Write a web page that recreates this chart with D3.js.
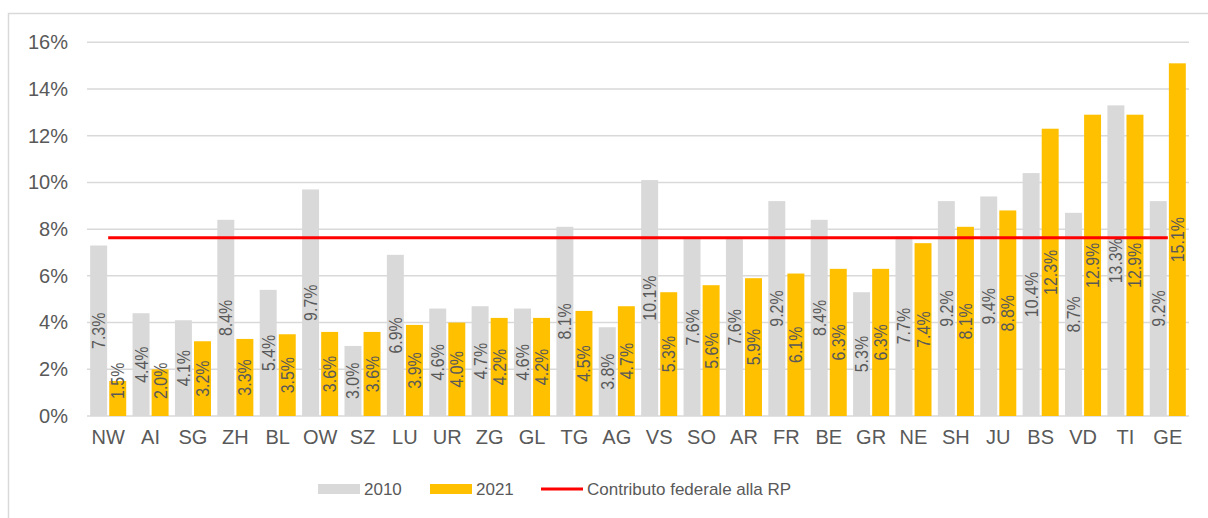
<!DOCTYPE html>
<html>
<head>
<meta charset="utf-8">
<script src="https://cdn.jsdelivr.net/npm/d3@7"></script>
<style>
  body { margin: 0; background: #fff; }
  svg { display: block; font-family: Arial, "Liberation Sans", sans-serif; }
</style>
</head>
<body>
<svg width="1208" height="518"></svg>
<script>
// Cantons and shares (in %)
const cantons = ["NW","AI","SG","ZH","BL","OW","SZ","LU","UR","ZG","GL","TG","AG","VS","SO","AR","FR","BE","GR","NE","SH","JU","BS","VD","TI","GE"];
const values2010 = [7.3,4.4,4.1,8.4,5.4,9.7,3.0,6.9,4.6,4.7,4.6,8.1,3.8,10.1,7.6,7.6,9.2,8.4,5.3,7.7,9.2,9.4,10.4,8.7,13.3,9.2];
const values2021 = [1.5,2.0,3.2,3.3,3.5,3.6,3.6,3.9,4.0,4.2,4.2,4.5,4.7,5.3,5.6,5.9,6.1,6.3,6.3,7.4,8.1,8.8,12.3,12.9,12.9,15.1];
const federalShare = 7.63;
const yTicks = [0,2,4,6,8,10,12,14,16];
const seriesNames = ["2010","2021"];

const colors = { "2010": "#d9d9d9", "2021": "#ffc000" };
const textColor = "#595959";
const labelSqueeze = 0.84;

const svg = d3.select("svg");

// outer frame
svg.append("rect")
    .attr("x", 8.5).attr("y", 13.5)
    .attr("width", 1210).attr("height", 520)
    .attr("fill", "none").attr("stroke", "#d9d9d9").attr("stroke-width", 1.5);

const x0 = d3.scaleBand().domain(cantons).range([87, 1189]).paddingInner(0.15).paddingOuter(0.075);
const x1 = d3.scaleBand().domain(seriesNames).range([0, x0.bandwidth()]).paddingInner(0.111);
const y = d3.scaleLinear().domain([0, 16]).range([416, 42.3]);

// gridlines
svg.append("g").selectAll("line")
    .data(yTicks)
    .join("line")
    .attr("x1", 87).attr("x2", 1189)
    .attr("y1", d => y(d)).attr("y2", d => y(d))
    .attr("stroke", "#d9d9d9").attr("stroke-width", 1.5);

// y axis labels
const yAxis = d3.axisLeft(y).tickValues(yTicks).tickFormat(d => d + "%").tickSize(0).tickPadding(0);
svg.append("g")
    .attr("transform", "translate(68,0)")
    .call(yAxis)
    .call(g => g.select(".domain").remove())
    .call(g => g.selectAll("text")
        .attr("font-size", 20).attr("fill", textColor)
        .attr("font-family", "Arial, 'Liberation Sans', sans-serif"));

// x axis labels
const xAxis = d3.axisBottom(x0).tickSize(0).tickPadding(0);
svg.append("g")
    .attr("transform", "translate(0,430)")
    .call(xAxis)
    .call(g => g.select(".domain").remove())
    .call(g => g.selectAll("text")
        .attr("font-size", 20).attr("fill", textColor).attr("dy", "0.71em")
        .attr("font-family", "Arial, 'Liberation Sans', sans-serif"));

const rows = cantons.map((c, i) => ({
    canton: c,
    vals: [{ key: "2010", v: values2010[i] }, { key: "2021", v: values2021[i] }]
}));

const groups = svg.append("g").selectAll("g")
    .data(rows)
    .join("g")
    .attr("transform", d => `translate(${x0(d.canton)},0)`);

groups.selectAll("rect")
    .data(d => d.vals)
    .join("rect")
    .attr("x", d => x1(d.key))
    .attr("width", x1.bandwidth())
    .attr("y", d => y(d.v))
    .attr("height", d => y(0) - y(d.v))
    .attr("fill", d => colors[d.key]);

// rotated value labels, centred in bar but kept off the axis
groups.selectAll("text")
    .data(d => d.vals)
    .join("text")
    .attr("font-size", 19)
    .attr("fill", textColor)
    .attr("text-anchor", "middle")
    .attr("dominant-baseline", "central")
    .text(d => d.v.toFixed(1) + "%")
    .each(function (d) {
        const half = this.getComputedTextLength() * labelSqueeze / 2;
        const mid = (y(d.v) + y(0)) / 2;
        const cy = Math.min(mid, y(0) - 17 - half);
        const cx = x1(d.key) + x1.bandwidth() / 2;
        d3.select(this).attr("transform", `translate(${cx},${cy}) rotate(-90) scale(${labelSqueeze},1)`);
    });

// federal contribution line
const first = x0(cantons[0]) + x0.bandwidth() / 2;
const last = x0(cantons[cantons.length - 1]) + x0.bandwidth() / 2;
svg.append("line")
    .attr("x1", first).attr("x2", last)
    .attr("y1", y(federalShare)).attr("y2", y(federalShare))
    .attr("stroke", "#ff0000").attr("stroke-width", 3);

// legend
const legend = svg.append("g").attr("font-size", 17).attr("fill", textColor);
legend.append("rect").attr("x", 318).attr("y", 484).attr("width", 42).attr("height", 10).attr("fill", colors["2010"]);
legend.append("text").attr("x", 364).attr("y", 489).attr("dominant-baseline", "central").text("2010");
legend.append("rect").attr("x", 430).attr("y", 484).attr("width", 42).attr("height", 10).attr("fill", colors["2021"]);
legend.append("text").attr("x", 476).attr("y", 489).attr("dominant-baseline", "central").text("2021");
legend.append("line").attr("x1", 541).attr("x2", 583).attr("y1", 489).attr("y2", 489)
    .attr("stroke", "#ff0000").attr("stroke-width", 3);
legend.append("text").attr("x", 587).attr("y", 489).attr("dominant-baseline", "central").text("Contributo federale alla RP");
</script>
</body>
</html>
